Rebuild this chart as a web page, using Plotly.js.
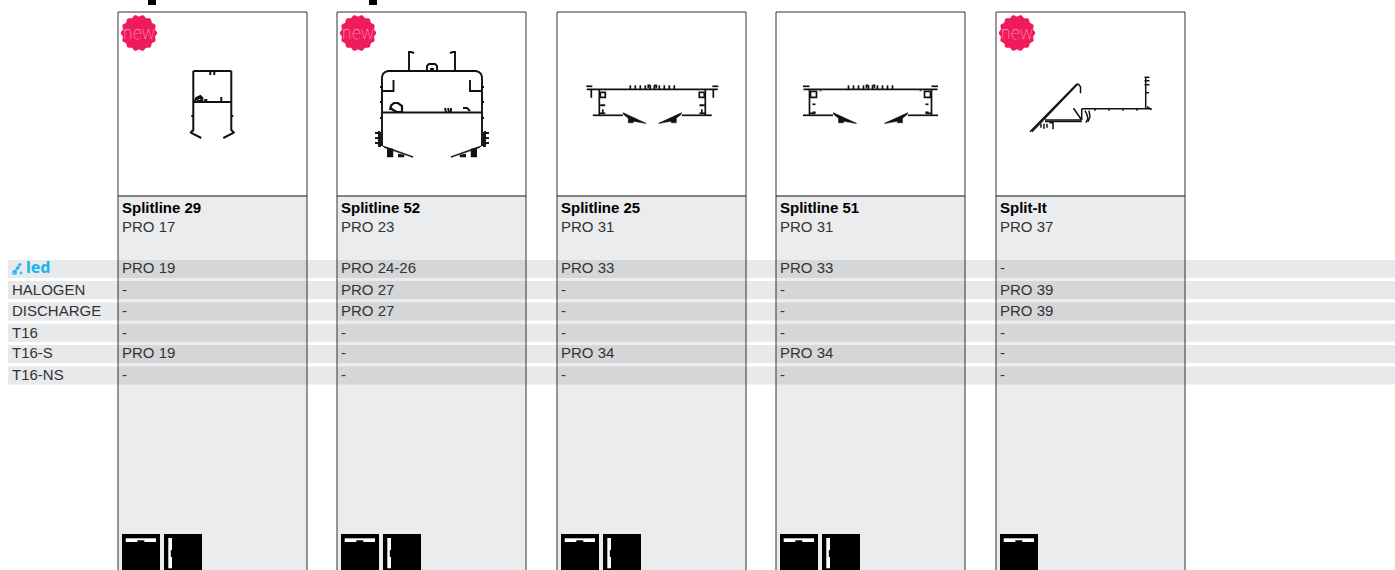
<!DOCTYPE html>
<html><head><meta charset="utf-8">
<script src="https://cdn.plot.ly/plotly-3.0.1.min.js"></script>
<style>html,body{margin:0;padding:0;background:#fff}#c{width:1395px;height:570px}</style></head>
<body><div id="c"></div>
<script>
// table content
const rowLabels = ["led","HALOGEN","DISCHARGE","T16","T16-S","T16-NS"];
const products = ["Splitline 29","Splitline 52","Splitline 25","Splitline 51","Split-It"];
const mainPages = ["PRO 17","PRO 23","PRO 31","PRO 31","PRO 37"];
const ledPages = ["PRO 19","PRO 24-26","PRO 33","PRO 33","-"];
const halogenPages = ["-","PRO 27","-","-","PRO 39"];
const dischargePages = ["-","PRO 27","-","-","PRO 39"];
const t16Pages = ["-","-","-","-","-"];
const t16sPages = ["PRO 19","-","PRO 34","PRO 34","-"];
const t16nsPages = ["-","-","-","-","-"];
const hasBadge = [true,true,false,false,true];
const iconCount = [2,2,2,2,1];
const panelLeft = [118,337,557,776,996];
const rowTop = [260,281,302.5,324,345,366.5];
const rowTextY = [269.5,291.5,312,334.5,354.5,376];

const INK = "#111", PANEL = "#ebecee", STRIP = "#e8e9eb", INSTRIP = "#d5d6d8";
const FONT = "Liberation Sans, Arial, sans-serif";
const traces = [], shapes = [], annos = [];
const PW = 189, HDR = 196, TOP = 12, BOTTOM = 575;

shapes.push({type:"rect",layer:"below",x0:0,x1:1395,y0:0,y1:570,fillcolor:"#fff",line:{width:0}});
rowTop.forEach(t=>shapes.push({type:"rect",layer:"below",x0:8,x1:1395,y0:t,y1:t+18,fillcolor:STRIP,line:{width:0}}));
panelLeft.forEach(l=>{
  shapes.push({type:"rect",layer:"below",x0:l,x1:l+PW,y0:HDR,y1:BOTTOM,fillcolor:PANEL,line:{width:0}});
  rowTop.forEach(t=>shapes.push({type:"rect",layer:"below",x0:l,x1:l+PW,y0:t,y1:t+18,fillcolor:INSTRIP,line:{width:0}}));
  shapes.push({type:"rect",layer:"below",x0:l,x1:l+PW,y0:TOP,y1:BOTTOM,line:{color:"#333",width:1}});
  shapes.push({type:"line",layer:"below",x0:l,x1:l+PW,y0:HDR,y1:HDR,line:{color:"#111",width:1}});
});
// cut-off heading descenders
[[148,156],[369,377]].forEach(a=>shapes.push({type:"rect",layer:"below",x0:a[0],x1:a[1],y0:0,y1:5,fillcolor:"#000",line:{width:0}}));

// badges
function scallop(cx,cy,r,a,n){let p="";for(let i=0;i<=360;i+=4){const t=i*Math.PI/180,R=r+a*Math.cos(n*t);
  p+=(i?"L":"M")+(cx+R*Math.cos(t)).toFixed(2)+" "+(cy+R*Math.sin(t)).toFixed(2);}return p+"Z";}
panelLeft.forEach((l,i)=>{ if(!hasBadge[i]) return;
  shapes.push({type:"path",layer:"above",path:scallop(l+21,33,17.4,0.9,14),fillcolor:"#ef1b5b",line:{width:0}});
  annos.push({x:l+21,y:33,text:"new",showarrow:false,xanchor:"center",yanchor:"middle",
    font:{family:"Inter, Lato, sans-serif",size:16.5,color:"rgba(255,255,255,.8)",weight:100}});
});

// icons at panel bottom
panelLeft.forEach((l,i)=>{
  shapes.push({type:"rect",x0:l+4,x1:l+42,y0:534,y1:572,fillcolor:"#000",line:{width:0}});
  shapes.push({type:"rect",x0:l+7.7,x1:l+38,y0:538.3,y1:542,fillcolor:"#fff",line:{width:0}});
  shapes.push({type:"rect",x0:l+19.3,x1:l+26.3,y0:540.3,y1:542,fillcolor:"#000",line:{width:0}});
  if(iconCount[i]>1){
    shapes.push({type:"rect",x0:l+46,x1:l+84,y0:534,y1:572,fillcolor:"#000",line:{width:0}});
    shapes.push({type:"rect",x0:l+50.3,x1:l+54,y0:538,y1:568.3,fillcolor:"#fff",line:{width:0}});
    shapes.push({type:"rect",x0:l+52.8,x1:l+54,y0:550,y1:557,fillcolor:"#000",line:{width:0}});
  }
});

function addLines(xs,ys,ox,oy,w){
  traces.push({type:"scatter",mode:"lines",x:xs.map(v=>v===null?null:ox+v),y:ys.map(v=>v===null?null:oy+v),
    line:{color:INK,width:w,shape:"linear"},hoverinfo:"skip",showlegend:false,connectgaps:false});
}
function addSolid(xs,ys,ox,oy){
  traces.push({type:"scatter",mode:"lines",x:xs.map(v=>v===null?null:ox+v),y:ys.map(v=>v===null?null:oy+v),
    fill:"toself",fillcolor:INK,line:{color:INK,width:0.5},hoverinfo:"skip",showlegend:false});
}
const mirror=(xs)=>xs.map(v=>v===null?null:-v);

// Splitline 29 profile (x from centre; y from top)
const p29x=[-19,19,null,-19,19,null,-19,-19,-21.5,-21,-11,null,-2,-2,null,2,2,null,
  -18,-16,-12,-10,-10,-14,-15,-13,-11,null,-8,-6,-6,null,9,9,11,null,-21,-19,null,
  -19,-21,null,19,19,21.5,21,11,null,21,19];
const p29y=[0,0,null,31,31,null,0,59,61.5,62,67,null,0,4,null,0,4,null,
  31,27,25,27,30,30,28,27,28,null,29,29,31,null,26,31,31,null,45,45,null,
  60,60,null,0,59,61.5,62,67,null,45,45];
addLines(p29x,p29y,212.3,71,2);

// Splitline 52 profile
const p52x=[0,0,1,3,6,94,97,99,100,100,null,1,100,null,
  27,27,29,32,null,73,73,71,68,null,45,45,47,53,55,55,null,49,49,null,51,51,null,
  11.5,11.5,1,null,88,88,99,null,-2,0,null,-2,0,null,-2,0,null,100,102,null,100,102,null,100,102,null,
  -7,-2,-2,null,107,102,102,null,-7,-3,null,-7,-3,null,107,103,null,107,103,null,-3,-3,null,103,103,null,
  63,64,null,66,67,null,69,69,null,81,85,88];
const p52y=[75,6,3,1,0,0,1,3,6,75,null,41.5,41.5,null,
  0,-19,-19,-18,null,0,-19,-19,-18,null,0,-5,-7,-7,-5,0,null,0,-3,null,0,-3,null,
  9,20,20,null,9,20,20,null,16,16,null,31,31,null,47,47,null,16,16,null,31,31,null,47,47,null,
  62,62,76,null,62,62,76,null,67,67,null,72,72,null,67,67,null,72,72,null,60,76,null,60,76,null,
  37,41,null,37,41,null,37,41,null,37,37,40];
addLines(p52x,p52y,382,71,1.9);
const w52x=[0,31,31,2,null,100,69,69,98];
const w52y=[74.5,85.5,86.5,76.5,null,74.5,85.5,86.5,76.5];
addSolid(w52x,w52y,382,71);
const lumps52x=[5,11,11,5,null,16,22,22,16,null,95,89,89,95,null,84,78,78,84];
const lumps52y=[77,78,86,86,null,83,84,86,86,null,77,78,86,86,null,83,84,86,86];
addSolid(lumps52x,lumps52y,382,71);
const loop52x=[8,9,12,16,20,20,15,11,9];
const loop52y=[39,34.5,32,32,35,41,41,39,37];
addLines(loop52x,loop52y,382,71,2.2);

// Splitline 25 half-profile
const p25x=[0,-65.5,null,-66,-60,null,-61,-61,null,-53,-53,null,-59.5,-29.5,null,
  -53,-47,null,-53,-47,null,-52,-47,-47,-52,-52,null,-51,-48,null,-2,-2,null,-4,-4,-2,null,
  -7,-7,null,-12,-12,null,-17,-17,null,-22,-22,null,-49.5,-49.5];
const p25y=[0,0,null,-3,-3,null,0,8.5,null,0,26,null,26,26,null,
  16,16,null,24,24,null,3,3,8,8,3,null,16,16,null,0,-4,null,-1,-4,-4,null,
  0,-4,null,0,-4,null,0,-4,null,0,-4,null,20,24];
addLines(p25x,p25y,652.3,89.3,1.7);
addLines(mirror(p25x),p25y,652.3,89.3,1.7);
const w25x=[-29.5,-6.3,-6.5,-13,-19,-19,-24,-24,-29];
const w25y=[23.3,34,34.3,33,32,33.5,33.5,29,25];
addSolid(w25x,w25y,652.3,89.3);
addSolid(mirror(w25x),w25y,652.3,89.3);

// Splitline 51 half-profile
const p51x=[0,-67,null,-67.5,-61,null,-61,-61,null,-67.5,-37.5,null,
  -61,-55,null,-60,-54,-54,-60,-60,null,-58,-55,null,-58,-55,null,-2,-2,null,-4,-4,-2,null,
  -7,-7,null,-12,-12,null,-17,-17,null,-22,-22,null,-50,-50];
const p51y=[0,0,null,-3,-3,null,0,26,null,26,26,null,
  24,24,null,2,2,8,8,2,null,15,15,null,23,23,null,0,-4,null,-1,-4,-4,null,
  0,-4,null,0,-4,null,0,-4,null,0,-4,null,1,2];
addLines(p51x,p51y,870.5,89.3,1.7);
addLines(mirror(p51x),p51y,870.5,89.3,1.7);
const w51x=[-37.5,-14,-14.2,-21,-27,-27,-32,-32,-37];
const w51y=[23.3,34,34.3,33,32,33.5,33.5,29,25];
addSolid(w51x,w51y,870.5,89.3);
addSolid(mirror(w51x),w51y,870.5,89.3);

// Split-It profile
const pItx=[0,46.7,48.5,50.5,50.5,null,2,47.5,null,15,51.7,null,15,51.7,null,43.5,51.7,null,51.7,51.7,null,51.7,121.5,null,
  115.7,115.7,null,114.5,119.5,null,114.5,119.5,null,114.5,119.5,null,115.5,119,null,117,120,121.5,null,
  55,57,58,57,56,null,59,60,58,null,65,65,null,79,79,null,93,93,null,107,107,null,
  11,11,null,14,14,null,17,17,null,19.5,23,23,null];
const pIty=[0,-47.4,-47.4,-45,-38.4,null,0,-47.4,null,-11.7,-11.7,null,-10.2,-10.2,null,-23.4,-11.7,null,-23,-11.7,null,-23,-23,null,
  -23,-54.4,null,-54.4,-54.4,null,-51,-51,null,-47,-47,null,-39,-39,null,-25,-23,-22,null,
  -21,-17,-13,-10,-9,null,-21,-15,-10,null,-23,-21,null,-23,-21,null,-23,-21,null,-23,-21,null,
  -8,-4,null,-8,-3,null,-8,-4,null,-9,-9,-2.5,null];
addLines(pItx,pIty,1030,131.7,1.5);

// table text
const colX = panelLeft.map(l=>l+4);
const textStyle = {family:FONT,size:15,color:"#333"};
function addText(xs,ys,txt,font){
  traces.push({type:"scatter",mode:"text",x:xs,y:ys,text:txt,textposition:"middle right",textfont:font,hoverinfo:"skip",showlegend:false});
}
addText(colX,products.map(()=>209.6),products.map(s=>"<b>"+s+"</b>"),{family:FONT,size:15,color:"#000"});
addText(colX,mainPages.map(()=>228.4),mainPages,textStyle);
[ledPages,halogenPages,dischargePages,t16Pages,t16sPages,t16nsPages].forEach((vals,r)=>{
  addText(colX,vals.map(()=>rowTextY[r]),vals,textStyle);
});
addText(rowLabels.slice(1).map(()=>12),rowTextY.slice(1),rowLabels.slice(1),textStyle);
addText([26],[269.2],["<b>"+rowLabels[0]+"</b>"],{family:"Noto Sans, sans-serif",size:16,color:"#14b4ee"});
traces.push({type:"scatter",mode:"lines",x:[14.5,20],y:[272.5,264.5],line:{color:"#14b4ee",width:3},hoverinfo:"skip",showlegend:false});
traces.push({type:"scatter",mode:"markers",x:[14.5,21,20],y:[272.5,273,264.5],marker:{color:"#14b4ee",size:[6.5,4.5,4.5]},hoverinfo:"skip",showlegend:false});

Plotly.newPlot("c",traces,{
  width:1395,height:570,margin:{l:0,r:0,t:0,b:0},paper_bgcolor:"#fff",plot_bgcolor:"rgba(0,0,0,0)",showlegend:false,
  xaxis:{range:[0,1395],visible:false,fixedrange:true},
  yaxis:{range:[570,0],visible:false,fixedrange:true},
  shapes:shapes,annotations:annos
},{displayModeBar:false,staticPlot:true});
</script></body></html>
